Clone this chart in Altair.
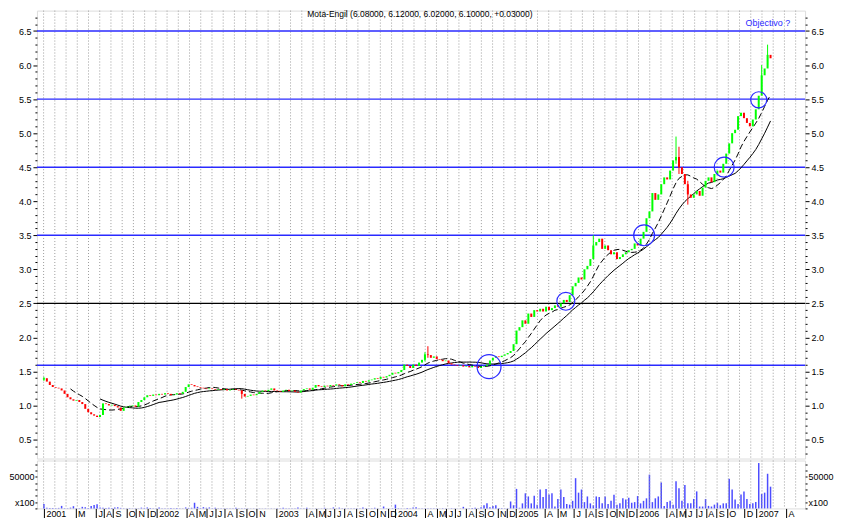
import altair as alt
import pandas as pd
import numpy as np

# ---------------- data (weekly bars) ----------------
closes = [1.40,1.35,1.30,1.27,1.26,1.25,1.22,1.17,1.12,1.09,
          1.07,1.08,1.05,1.02,0.95,0.90,0.87,0.85,0.83,0.86,
          1.03,1.02,1.00,1.01,0.99,0.97,0.92,0.97,0.98,0.99,
          1.00,0.98,1.05,1.08,1.12,1.15,1.14,1.16,1.15,1.17,
          1.16,1.18,1.17,1.15,1.16,1.18,1.17,1.20,1.27,1.31,
          1.30,1.28,1.27,1.26,1.25,1.24,1.25,1.24,1.23,1.24,
          1.23,1.24,1.22,1.23,1.24,1.23,1.22,1.17,1.13,1.14,
          1.16,1.15,1.17,1.20,1.22,1.21,1.23,1.25,1.22,1.21,
          1.20,1.22,1.23,1.21,1.22,1.20,1.19,1.22,1.24,1.25,
          1.23,1.26,1.30,1.28,1.27,1.29,1.28,1.30,1.29,1.31,
          1.30,1.28,1.31,1.30,1.32,1.33,1.34,1.33,1.36,1.35,
          1.37,1.38,1.40,1.39,1.42,1.41,1.43,1.45,1.48,1.47,
          1.49,1.52,1.60,1.58,1.55,1.60,1.58,1.63,1.67,1.75,
          1.74,1.70,1.72,1.68,1.67,1.65,1.66,1.62,1.60,1.59,
          1.58,1.59,1.57,1.58,1.56,1.58,1.57,1.55,1.57,1.58,
          1.60,1.66,1.70,1.72,1.71,1.73,1.75,1.77,1.80,1.90,
          2.10,2.15,2.25,2.20,2.35,2.30,2.40,2.38,2.42,2.38,
          2.45,2.40,2.43,2.47,2.45,2.50,2.55,2.52,2.62,2.75,
          2.80,2.88,2.85,3.00,3.05,3.15,3.35,3.40,3.45,3.30,
          3.35,3.28,3.22,3.25,3.15,3.18,3.22,3.25,3.28,3.30,
          3.38,3.35,3.45,3.55,3.75,3.85,4.12,4.02,4.10,4.25,
          4.35,4.32,4.45,4.60,4.65,4.50,4.40,4.25,4.10,4.05,
          4.10,4.15,4.08,4.20,4.30,4.35,4.28,4.40,4.45,4.42,
          4.55,4.70,4.85,5.00,5.05,5.25,5.30,5.22,5.15,5.10,
          5.20,5.35,5.55,5.85,5.95,6.15,6.10]
first_open = 1.38

volumes = [7000,1000,500,800,600,800,4000,600,500,1200,
           3500,600,500,2500,2000,800,4000,5500,6500,1500,
           1000,800,1200,500,1500,1800,800,400,300,500,
           300,400,300,1200,800,1500,500,400,300,1500,
           300,200,300,500,300,500,400,300,1500,800,
           1000,9000,2500,800,2000,1000,1500,500,1200,300,
           200,300,200,300,200,1000,200,300,200,300,
           200,300,200,300,200,300,200,300,200,300,
           200,1200,300,200,300,200,1500,300,200,1200,
           300,200,300,200,300,1000,200,300,1500,300,
           1200,300,200,300,200,300,200,300,1500,300,
           200,300,1000,300,200,3000,300,200,500,6000,
           500,300,200,500,300,1500,2000,300,200,300,
           200,300,200,300,200,500,300,200,500,300,
           200,300,2500,300,200,500,1000,300,2000,5000,
           8000,2000,4000,5000,800,600,400,500,11000,5000,
           31000,1000,8000,24000,19000,8000,20000,6000,30000,18000,
           31000,22000,24000,3000,15000,30000,18000,7000,6000,12000,
           48000,25000,30000,10000,19000,8000,5000,19000,18000,8000,
           19000,7000,12000,21600,6000,8000,16000,14000,17000,9000,
           10000,19600,8000,12000,16000,53600,10000,16000,19000,41000,
           4000,10000,12000,6000,43000,32000,12000,37000,8000,8000,
           15000,27000,3000,3000,15000,4000,3000,6000,9000,5000,
           8000,8000,47000,30000,14000,7000,22000,27000,15000,7000,
           8000,10000,72000,23000,25000,55000,34500]

wick_bar = [0, 67, 129, 130, 186, 214, 215, 218, 243, 245]
wick_high = [1.42, 1.22, 1.78, 1.87, 3.50, 4.95, 4.80, 4.30, 6.00, 6.30]
wick_low = [1.36, 1.10, 1.65, 1.70, 3.20, 4.55, 4.40, 3.95, 5.60, 6.00]

level_values = [6.5, 5.5, 4.5, 3.5, 2.5, 1.59]
level_colors = ["#2a2aff", "#2a2aff", "#2a2aff", "#2a2aff", "#000000", "#2a2aff"]

circle_bar = [150.7, 176.7, 203.2, 230.3, 242.0]
circle_price = [1.57, 2.53, 3.50, 4.50, 5.49]
circle_size = [576, 324, 441, 400, 260]

month_pos = [0.0, 10.7, 17.6, 20.3, 23.4, 27.9, 31.2, 35.1,
             38.2, 48.2, 51.6, 55.1, 58.0, 61.2, 65.1, 68.4, 72.1,
             78.7, 88.7, 92.1, 95.1, 98.4, 101.8, 105.7, 109.2, 112.9, 116.4,
             119.0, 129.0, 132.9, 136.2, 139.0, 142.9, 146.3, 149.3, 153.6, 156.7,
             159.8, 169.5, 173.8, 179.5, 183.4, 186.7, 190.6, 193.7, 197.1,
             200.7, 210.8, 214.2, 217.2, 220.8, 224.1, 227.6, 231.2, 237.1,
             241.2, 251.2]
month_lab = ["2001", "M", "J", "A", "S", "O", "N", "D",
             "2002", "A", "M", "J", "J", "A", "S", "O", "N",
             "2003", "A", "M", "J", "J", "A", "S", "O", "N", "D",
             "2004", "A", "M", "J", "J", "A", "S", "O", "N", "D",
             "2005", "A", "M", "J", "A", "S", "O", "N", "D",
             "2006", "A", "M", "J", "J", "A", "S", "O", "D",
             "2007", "A"]

title_text = "Mota-Engil (6.08000, 6.12000, 6.02000, 6.10000, +0.03000)"
target_text = "Objectivo ?"

# ---------------- tables ----------------
n = len(closes)
opens = [first_open] + closes[:-1]
df = pd.DataFrame({
    "i": np.arange(n),
    "open": opens,
    "close": closes,
    "vol": volumes,
})
df["col"] = np.where(df["close"] >= df["open"], "#00ff00", "#ff0000")
df["lo"] = df[["open", "close"]].min(axis=1)
df["hi"] = df[["open", "close"]].max(axis=1)

wick_df = pd.DataFrame({"i": wick_bar, "hi": wick_high, "lo": wick_low})
wick_df = wick_df.merge(df[["i", "col"]], on="i")

levels_df = pd.DataFrame({"v": level_values, "c": level_colors})
circ_df = pd.DataFrame({"i": circle_bar, "p": circle_price, "s": circle_size})
grid_df = pd.DataFrame({"g": np.arange(-0.1, 256.0, 3.8)})

x_scale = alt.Scale(domain=[-0.67, 256.0], nice=False, zero=False)
p_scale = alt.Scale(domain=[0.22, 6.80], nice=False, zero=False)
v_scale = alt.Scale(domain=[0, 76000], nice=False, zero=False)

y_ticks = [round(0.3 + 0.1 * k, 1) for k in range(65)]
major_test = "abs(datum.value*2 - round(datum.value*2)) < 0.01"
price_label = f"{major_test} ? format(datum.value, '.1f') : ''"
tick_sz = {"condition": {"test": major_test, "value": 4}, "value": 2}


def price_axis(orient):
    return alt.Axis(orient=orient, values=y_ticks, labelExpr=price_label,
                    tickSize=tick_sz, domain=False, grid=False, title=None,
                    labelOverlap=False, labelFontSize=9, labelColor="black",
                    tickColor="black", labelPadding=2, labelFlush=False)


vol_ticks = [0, 10000, 20000, 30000, 40000, 50000, 60000, 70000]
vol_label = "datum.value == 50000 ? '50000' : (datum.value == 10000 ? 'x100' : '')"


def vol_axis(orient):
    return alt.Axis(orient=orient, values=vol_ticks, labelExpr=vol_label,
                    tickSize=2, domain=False, grid=False, title=None,
                    labelOverlap=False, labelFontSize=9, labelColor="black",
                    tickColor="black", labelPadding=1, labelFlush=False)


X = lambda f: alt.X(f, type="quantitative", scale=x_scale, axis=None)

grid = alt.Chart(grid_df).mark_rule(strokeDash=[1, 2], color="#9c9c9c", strokeWidth=1).encode(
    x=X("g"))

levels = alt.Chart(levels_df).mark_rule(strokeWidth=1.4).encode(
    y=alt.Y("v:Q", scale=p_scale, axis=price_axis("left")),
    color=alt.Color("c:N", scale=None))
levels_r = alt.Chart(levels_df).mark_rule(opacity=0).encode(
    y=alt.Y("v:Q", scale=p_scale, axis=price_axis("right")))

wicks = alt.Chart(wick_df).mark_rule(strokeWidth=1).encode(
    x=X("i"), y=alt.Y("lo:Q", scale=p_scale, axis=None), y2="hi:Q",
    color=alt.Color("col:N", scale=None))

candles = alt.Chart(df).mark_bar(width=2).encode(
    x=X("i"), y=alt.Y("lo:Q", scale=p_scale, axis=None), y2="hi:Q",
    color=alt.Color("col:N", scale=None))

ma10 = alt.Chart(df).transform_window(
    ma="mean(close)", cnt="count()", frame=[-9, 0], sort=[{"field": "i"}]
).transform_filter("datum.cnt >= 10").mark_line(
    color="black", strokeWidth=1, strokeDash=[6, 3]).encode(
    x=X("i"), y=alt.Y("ma:Q", scale=p_scale, axis=None))

ma20 = alt.Chart(df).transform_window(
    ma="mean(close)", cnt="count()", frame=[-19, 0], sort=[{"field": "i"}]
).transform_filter("datum.cnt >= 20").mark_line(
    color="black", strokeWidth=1).encode(
    x=X("i"), y=alt.Y("ma:Q", scale=p_scale, axis=None))

circles = alt.Chart(circ_df).mark_point(shape="circle", filled=False, color="#2a2aff",
                                        strokeWidth=1.2, opacity=1).encode(
    x=X("i"), y=alt.Y("p:Q", scale=p_scale, axis=None),
    size=alt.Size("s:Q", scale=None))

title_mark = alt.Chart(pd.DataFrame({"x": [127.3], "y": [6.75], "t": [title_text]})).mark_text(
    fontSize=8.5, color="black", align="center", baseline="middle").encode(
    x=X("x"), y=alt.Y("y:Q", scale=p_scale, axis=None), text="t:N")

target_mark = alt.Chart(pd.DataFrame({"x": [252.7], "y": [6.62], "t": [target_text]})).mark_text(
    fontSize=9, color="#2a2aff", align="right", baseline="middle").encode(
    x=X("x"), y=alt.Y("y:Q", scale=p_scale, axis=None), text="t:N")

price_panel = alt.layer(
    grid, levels, levels_r, ma20, ma10, wicks, candles, circles, title_mark, target_mark
).resolve_axis(y="independent").properties(width=770, height=449)

month_expr = "[" + ",".join(f"'{m}'" for m in month_lab) + "][indexof([" + \
    ",".join(repr(p) for p in month_pos) + "], datum.value)]"

x_axis = alt.Axis(orient="bottom", values=month_pos, labelExpr=month_expr, tickSize=13,
                  tickColor="black", domain=False, grid=False, title=None,
                  labelAlign="left", labelBaseline="top", labelPadding=-12, labelOffset=2,
                  labelFontSize=9, labelColor="black", labelOverlap=False, labelFlush=False)

XV = lambda f: alt.X(f, type="quantitative", scale=x_scale, axis=x_axis)

vbars = alt.Chart(df).mark_bar(width=1.5, color="#4d4dff").encode(
    x=XV("i"),
    y=alt.Y("vol:Q", scale=v_scale, axis=vol_axis("left")))

vgrid = alt.Chart(grid_df).mark_rule(strokeDash=[1, 2], color="#9c9c9c", strokeWidth=1).encode(
    x=XV("g"))

vbars_r = alt.Chart(df).mark_bar(width=1.5, opacity=0).encode(
    x=XV("i"),
    y=alt.Y("vol:Q", scale=v_scale, axis=vol_axis("right")))

vol_panel = alt.layer(vbars, vgrid, vbars_r).resolve_axis(y="independent").properties(
    width=770, height=48)

chart = alt.vconcat(price_panel, vol_panel, spacing=0).properties(padding=0).configure_view(
    stroke="black", strokeWidth=1
).configure(font="Liberation Sans", background="white")

chart.save("out.html", embed_options={"renderer": "svg", "actions": False})
